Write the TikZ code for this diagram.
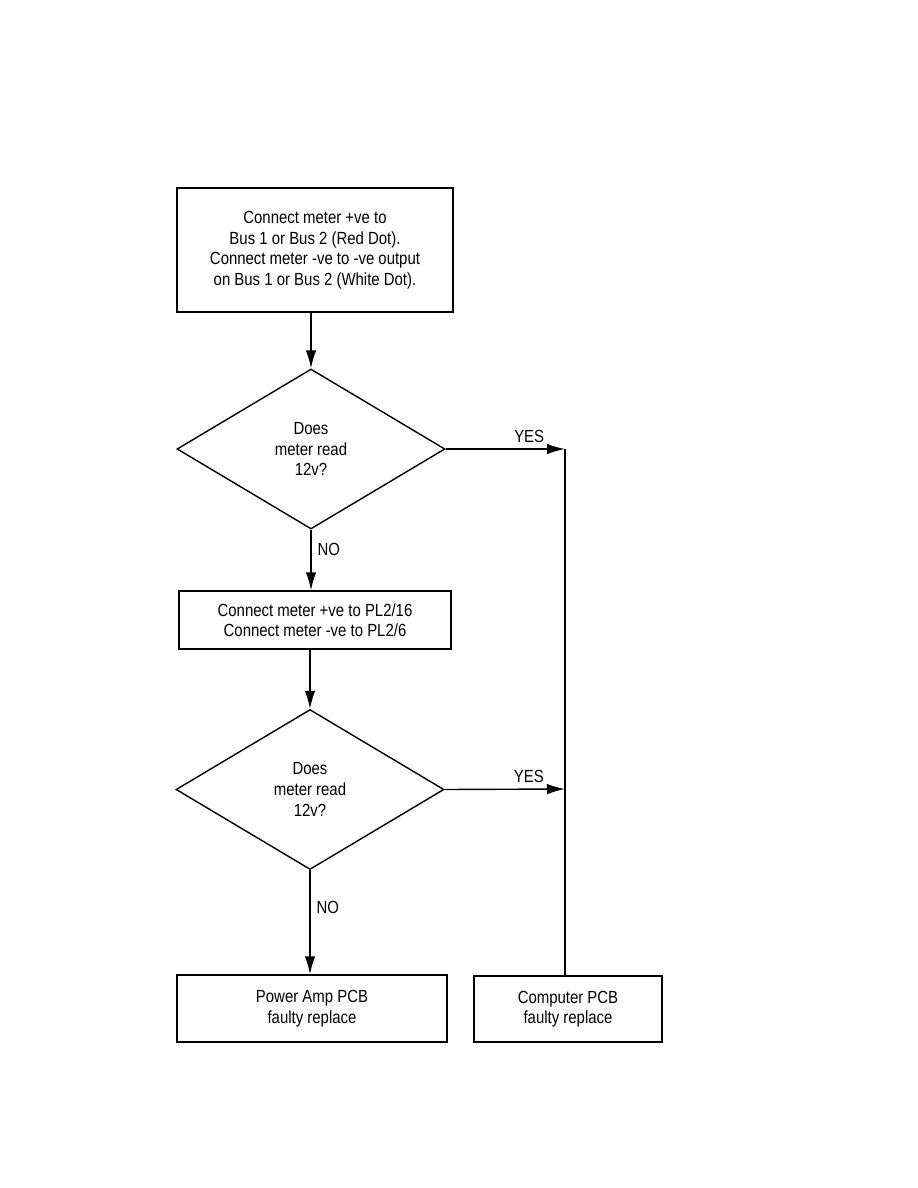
\documentclass[tikz,border=0pt]{standalone}
\usepackage{fontspec}
\setmainfont[FakeStretch=0.85]{Liberation Sans}
\usepackage{tikz}
\usetikzlibrary{shapes.geometric, arrows.meta, positioning, calc}

\begin{document}
\begin{tikzpicture}[x=0.2mm, y=-0.2mm, font=\fontsize{10}{11.7}\selectfont, >=Latex,
        line width=0.8pt,
        box/.style={draw, rectangle, align=center, inner sep=0},
        ask/.style={draw, diamond, align=center, inner sep=0,
            minimum width=53.6mm, minimum height=32mm},
        tr/.style={-{Latex[length=3.6mm, width=2.1mm]}}]
        \useasboundingbox (0,0) rectangle (918,1188);
        \node[box, minimum width=55.2mm, minimum height=24.8mm] (b1) at (315,250)
            {Connect meter +ve to\\Bus 1 or Bus 2 (Red Dot).\\Connect meter -ve to -ve output\\on Bus 1 or Bus 2 (White Dot).};
        \node[ask] (d1) at (311,449) {Does\\meter read\\12v?};
        \node[box, minimum width=54.4mm, minimum height=11.6mm] (b2) at (315,620)
            {Connect meter +ve to PL2/16\\Connect meter -ve to PL2/6};
        \node[ask] (d2) at (310,789.5) {Does\\meter read\\12v?};
        \node[box, minimum width=54mm, minimum height=13.4mm] (b3) at (312,1008.5)
            {Power Amp PCB\\faulty replace};
        \node[box, minimum width=37.6mm, minimum height=13.2mm] (b4) at (568,1009)
            {Computer PCB\\faulty replace};
        \coordinate (j1) at (565,449);
        \coordinate (j2) at (565,789);
        \draw[tr] (b1.south -| d1) -- (d1.north);
        \draw[tr] (d1.south) -- node[right, pos=0.33]{NO} (d1.south |- b2.north);
        \draw[tr] (b2.south -| d2) -- (d2.north);
        \draw[tr] (d2.south) -- node[right, pos=0.36]{NO} (d2.south |- b3.north);
        \draw[tr] (d1.east) -- node[above, pos=0.7]{YES} (j1);
        \draw[tr] (d2.east) -- node[above, pos=0.7]{YES} (j2);
        \draw (j1) -- (j1 |- b4.north);
    \end{tikzpicture}
\end{document}
